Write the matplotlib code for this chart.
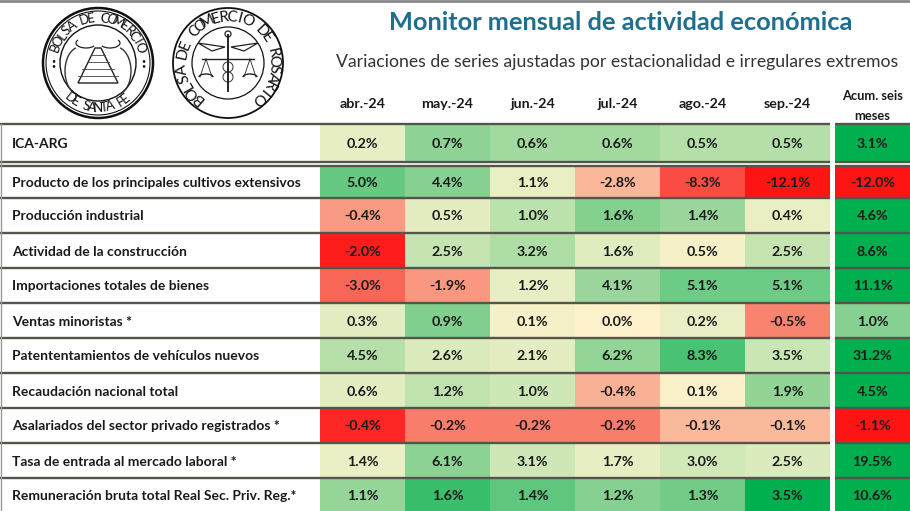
import numpy as np
import matplotlib
matplotlib.use("Agg")
import matplotlib.pyplot as plt
from matplotlib.patches import Rectangle, Circle, Polygon, Arc
from matplotlib.colors import LinearSegmentedColormap

plt.rcParams['font.family'] = ['Lato', 'DejaVu Sans']

# datos
meses = ["abr.-24", "may.-24", "jun.-24", "jul.-24", "ago.-24", "sep.-24"]
series = [
    "ICA-ARG",
    "Producto de los principales cultivos extensivos",
    "Producción industrial",
    "Actividad de la construcción",
    "Importaciones totales de bienes",
    "Ventas minoristas *",
    "Patententamientos de vehículos nuevos",
    "Recaudación nacional total",
    "Asalariados del sector privado registrados *",
    "Tasa de entrada al mercado laboral *",
    "Remuneración bruta total Real Sec. Priv. Reg.*",
]
ica_arg = [0.2, 0.7, 0.6, 0.6, 0.5, 0.5]
cultivos = [5.0, 4.4, 1.1, -2.8, -8.3, -12.1]
industria = [-0.4, 0.5, 1.0, 1.6, 1.4, 0.4]
construccion = [-2.0, 2.5, 3.2, 1.6, 0.5, 2.5]
importaciones = [-3.0, -1.9, 1.2, 4.1, 5.1, 5.1]
ventas = [0.3, 0.9, 0.1, 0.0, 0.2, -0.5]
patentamientos = [4.5, 2.6, 2.1, 6.2, 8.3, 3.5]
recaudacion = [0.6, 1.2, 1.0, -0.4, 0.1, 1.9]
asalariados = [-0.4, -0.2, -0.2, -0.2, -0.1, -0.1]
tasa_entrada = [1.4, 6.1, 3.1, 1.7, 3.0, 2.5]
remuneracion = [1.1, 1.6, 1.4, 1.2, 1.3, 3.5]
acumulado = [3.1, -12.0, 4.6, 8.6, 11.1, 1.0, 31.2, 4.5, -1.1, 19.5, 10.6]

valores = [ica_arg, cultivos, industria, construccion, importaciones, ventas,
           patentamientos, recaudacion, asalariados, tasa_entrada, remuneracion]

# escala de color por fila (rojo hasta -neg, verde hasta +pos)
escala_neg = [1.0, 12.1, 1.2, 2.1, 5.5, 1.2, 1.0, 1.6, 0.45, 1.0, 1.0]
escala_pos = [1.15, 7.0, 2.5, 7.0, 7.3, 1.4, 10.5, 3.2, 1.0, 10.0, 1.9]
acum_neg, acum_pos = 1.1, 1.6

cmap = LinearSegmentedColormap.from_list("semaforo", [
    (0.00, (1.00, 0.08, 0.08)),
    (0.25, (0.97, 0.43, 0.37)),
    (0.40, (0.98, 0.75, 0.63)),
    (0.50, (1.00, 0.95, 0.80)),
    (0.62, (0.87, 0.925, 0.75)),
    (0.80, (0.57, 0.83, 0.59)),
    (1.00, (0.00, 0.69, 0.31)),
])


def color_celda(v, neg, pos):
    t = v / pos if v >= 0 else v / neg
    t = max(-1.0, min(1.0, t))
    return cmap(0.5 + t / 2)


fig = plt.figure(figsize=(9.10, 5.11), dpi=100)
ax = fig.add_axes([0, 0, 1, 1])
ax.set_xlim(0, 910)
ax.set_ylim(511, 0)
ax.axis("off")

x0_mes = 320
ancho = 85
x_fin = x0_mes + ancho * len(meses)
x_acum0, x_acum1 = 835, 910
y_head = 124
y_ica = (124, 162)
y_ini = 166
alto = 35

linea_col = "#55554c"
texto_col = "#1a1a1a"
fs = 10

# filas
filas_y = [y_ica]
y = 198
filas_y.append((y_ini, y))
for i in range(len(series) - 2):
    filas_y.append((y, y + alto))
    y += alto

for i, (nombre, fila) in enumerate(zip(series, valores)):
    ya, yb = filas_y[i]
    ym = (ya + yb) / 2
    ax.text(12, ym + 1, nombre, fontsize=fs, fontweight="bold",
            color=texto_col, va="center", ha="left")
    for j, v in enumerate(fila):
        c = color_celda(v, escala_neg[i], escala_pos[i])
        ax.add_patch(Rectangle((x0_mes + j * ancho, ya), ancho, yb - ya,
                               facecolor=c, edgecolor="none"))
        ax.text(x0_mes + j * ancho + ancho / 2, ym + 1, f"{v:.1f}%",
                fontsize=fs + 0.3, fontweight="bold", color=texto_col,
                ha="center", va="center")
    va = acumulado[i]
    ax.add_patch(Rectangle((x_acum0, ya), x_acum1 - x_acum0, yb - ya,
                           facecolor=color_celda(va, acum_neg, acum_pos),
                           edgecolor="none"))
    ax.text((x_acum0 + x_acum1) / 2, ym + 1, f"{va:.1f}%", fontsize=fs + 0.3,
            fontweight="bold", color=texto_col, ha="center", va="center")

# lineas horizontales
bordes = [y_head, y_ica[1], y_ini] + [fy[1] for fy in filas_y[1:-1]]
for yl in bordes:
    ax.plot([0, x_fin], [yl, yl], color=linea_col, lw=1.7, solid_capstyle="butt")
    ax.plot([x_acum0, x_acum1], [yl, yl], color=linea_col, lw=1.7,
            solid_capstyle="butt")
ax.plot([0, 910], [1.5, 1.5], color="#8a8a8a", lw=2)
ax.plot([0.8, 0.8], [y_head, 511], color="#9a9a9a", lw=1)

# encabezados
for j, m in enumerate(meses):
    ax.text(x0_mes + j * ancho + ancho / 2, 104, m, fontsize=10.3,
            fontweight="bold", color=texto_col, ha="center", va="center")
ax.text((x_acum0 + x_acum1) / 2, 96, "Acum. seis", fontsize=9.3,
        fontweight="bold", color=texto_col, ha="center", va="center")
ax.text((x_acum0 + x_acum1) / 2, 116, "meses", fontsize=9.3,
        fontweight="bold", color=texto_col, ha="center", va="center")

ax.text(621, 23, "Monitor mensual de actividad económica", fontsize=18.3,
        fontweight="bold", color="#1f6e8e", ha="center", va="center")
ax.text(617, 62, "Variaciones de series ajustadas por estacionalidad e irregulares extremos",
        fontsize=12.7, color="#333333", ha="center", va="center")


# logos
def texto_arco(cx, cy, r, texto, a0, a1, size, abajo=False):
    angs = np.linspace(a0, a1, len(texto))
    for ch, a in zip(texto, angs):
        rad = np.deg2rad(a)
        rot = a + 90 if abajo else a - 90
        ax.text(cx + r * np.cos(rad), cy - r * np.sin(rad), ch, fontsize=size,
                rotation=rot, rotation_mode="anchor", ha="center", va="center",
                color="#111111")


# Santa Fe
cx, cy = 98, 63
ax.add_patch(Circle((cx, cy), 55, fill=False, lw=1.8, ec="#111111"))
ax.add_patch(Circle((cx, cy), 52, fill=False, lw=0.8, ec="#111111"))
ax.add_patch(Circle((cx, cy), 38, fill=False, lw=1.0, ec="#111111"))
texto_arco(cx, cy, 45, "BOLSA DE COMERCIO", 160, 20, 9.5)
texto_arco(cx, cy, 45, "DE SANTA FE", 232, 308, 9.5, abajo=True)
for s in (-1, 1):
    ax.text(cx + s * 45, cy, "•\n•", fontsize=5, ha="center", va="center",
            linespacing=0.6, color="#111111")
ax.add_patch(Polygon([(cx - 20, cy + 20), (cx + 20, cy + 20), (cx + 3, cy - 15),
                      (cx - 3, cy - 15)], closed=True, fill=False, lw=1.0,
                     ec="#222222"))
for k in range(1, 5):
    yy = cy - 15 + k * 7
    w = 3 + k * 4.2
    ax.plot([cx - w, cx + w], [yy, yy], color="#444444", lw=0.6)
ax.add_patch(Arc((cx - 12, cy - 20), 20, 10, theta1=20, theta2=200, lw=0.9,
                 color="#222222"))
ax.add_patch(Arc((cx + 12, cy - 20), 20, 10, theta1=-20, theta2=160, lw=0.9,
                 color="#222222"))
ax.add_patch(Arc((cx - 18, cy + 8), 30, 48, theta1=100, theta2=260, lw=1.0,
                 color="#333333"))
ax.add_patch(Arc((cx + 18, cy + 8), 30, 48, theta1=-80, theta2=80, lw=1.0,
                 color="#333333"))

# Rosario
cx, cy = 228, 63
ax.add_patch(Circle((cx, cy), 55, fill=False, lw=1.3, ec="#111111"))
ax.add_patch(Circle((cx, cy), 36, fill=False, lw=0.9, ec="#111111"))
texto_arco(cx, cy, 46, "BOLSA DE COMERCIO DE ROSARIO", 230, -49, 11)
ax.plot([cx, cx], [cy - 28, cy + 28], color="#222222", lw=1.4)
ax.plot([cx - 26, cx + 26], [cy - 4, cy - 4], color="#222222", lw=1.0)
for s in (-1, 1):
    px = cx + s * 22
    ax.plot([px, px - 6], [cy - 4, cy + 14], color="#222222", lw=0.6)
    ax.plot([px, px + 6], [cy - 4, cy + 14], color="#222222", lw=0.6)
    ax.add_patch(Arc((px, cy + 14), 14, 6, theta1=180, theta2=360, lw=1.0,
                     color="#222222"))
    ax.add_patch(Polygon([(cx + s * 3, cy - 16), (cx + s * 30, cy - 20),
                          (cx + s * 16, cy - 12)], closed=True, fill=False,
                         lw=0.9, ec="#222222"))
ax.add_patch(Circle((cx, cy - 29), 3, fill=False, lw=0.9, ec="#222222"))
ax.add_patch(Arc((cx, cy + 4), 10, 10, theta1=0, theta2=360, lw=0.7,
                 color="#333333"))
ax.add_patch(Arc((cx, cy + 14), 10, 10, theta1=0, theta2=360, lw=0.7,
                 color="#333333"))

fig.savefig("out.png", dpi=100)
